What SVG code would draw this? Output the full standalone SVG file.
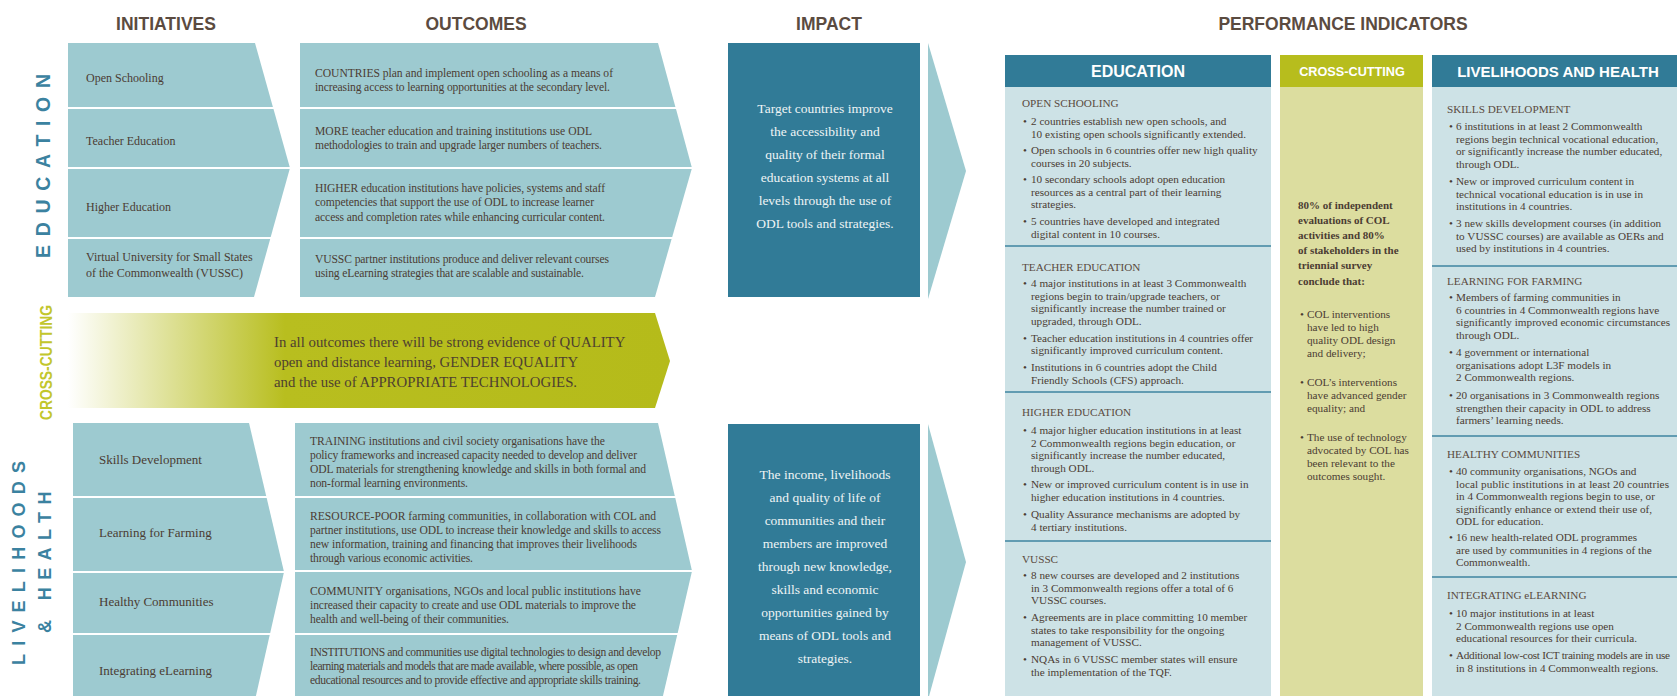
<svg xmlns="http://www.w3.org/2000/svg" width="1677" height="696" viewBox="0 0 1677 696">
<defs>
<style>
.hdr{font-family:"Liberation Sans",Arial,sans-serif;font-weight:bold;font-size:17.5px;fill:#5b4b40;text-anchor:middle}
.ini{font-family:"Liberation Serif","Times New Roman",serif;font-size:12px;fill:#4b3c33}
.ini13{font-family:"Liberation Serif","Times New Roman",serif;font-size:13px;fill:#4b3c33}
.out{font-family:"Liberation Serif","Times New Roman",serif;font-size:11.6px;fill:#4b3c33}
.band{font-family:"Liberation Serif","Times New Roman",serif;font-size:14.8px;fill:#4e4030}
.imp{font-family:"Liberation Serif","Times New Roman",serif;font-size:13.5px;fill:#eef4f5;text-anchor:middle}
.pi{font-family:"Liberation Serif","Times New Roman",serif;font-size:11.2px;fill:#4b3c33}
.pit{font-family:"Liberation Serif","Times New Roman",serif;font-size:11.2px;fill:#5a4a40}
.pib{font-family:"Liberation Serif","Times New Roman",serif;font-size:11px;font-weight:bold;fill:#4b3c33}
.pih{font-family:"Liberation Sans",Arial,sans-serif;font-weight:bold;fill:#ffffff;text-anchor:middle}
.vlab{font-family:"Liberation Sans",Arial,sans-serif;font-weight:bold}
.light{fill:#9dcad0}
.dark{fill:#317b97}
.pibody{fill:#cde2e6}
.sep{stroke:#3e84a0;stroke-width:1.5}
</style>
<linearGradient id="bandGrad" gradientUnits="userSpaceOnUse" x1="68" y1="0" x2="670" y2="0">
<stop offset="0" stop-color="#ffffff"/>
<stop offset="0.36" stop-color="#b8be1f"/>
<stop offset="1" stop-color="#b5bb1a"/>
</linearGradient>
</defs>
<rect width="1677" height="696" fill="#ffffff"/>

<g id="headers">
<text class="hdr" x="166" y="30">INITIATIVES</text>
<text class="hdr" x="476" y="30">OUTCOMES</text>
<text class="hdr" x="829" y="30">IMPACT</text>
<text class="hdr" x="1343" y="30">PERFORMANCE INDICATORS</text>
</g>

<g id="side-labels">
<text class="vlab" transform="translate(50,258) rotate(-90)" font-size="19.5" letter-spacing="8.7" fill="#3b82a0">EDUCATION</text>
<text class="vlab" transform="translate(52,420) rotate(-90)" font-size="16" fill="#c2c62c" textLength="115" lengthAdjust="spacingAndGlyphs">CROSS-CUTTING</text>
<text class="vlab" transform="translate(25,665) rotate(-90)" font-size="18" letter-spacing="8.2" fill="#3b82a0">LIVELIHOODS</text>
<text class="vlab" transform="translate(51,633) rotate(-90)" font-size="18" letter-spacing="7.4" fill="#3b82a0">&amp; HEALTH</text>
</g>

<g id="ini-open-schooling">
<polygon class="light" points="68,43 255,43 272.9,107 68,107"/>
<text class="ini" x="86" y="82">Open Schooling</text>
</g>
<g id="ini-teacher-education">
<polygon class="light" points="68,109 273.5,109 289.7,167 68,167"/>
<text class="ini" x="86" y="145">Teacher Education</text>
</g>
<g id="ini-higher-education">
<polygon class="light" points="68,169 289.7,169 270.7,237 68,237"/>
<text class="ini" x="86" y="211">Higher Education</text>
</g>
<g id="ini-vussc">
<polygon class="light" points="68,239 270.2,239 254,297 68,297"/>
<text class="ini"><tspan x="86" y="261">Virtual University for Small States</tspan><tspan x="86" y="277">of the Commonwealth (VUSSC)</tspan></text>
</g>

<g id="out-open-schooling">
<polygon class="light" points="300,43 658,43 675.4,107 300,107"/>
<text class="out" x="315" y="77" textLength="298" lengthAdjust="spacing">COUNTRIES plan and implement open schooling as a means of</text>
<text class="out" x="315" y="91" textLength="295" lengthAdjust="spacing">increasing access to learning opportunities at the secondary level.</text>
</g>
<g id="out-teacher-education">
<polygon class="light" points="300,109 676,109 691.7,167 300,167"/>
<text class="out" x="315" y="135" textLength="277" lengthAdjust="spacing">MORE teacher education and training institutions use ODL</text>
<text class="out" x="315" y="149" textLength="287" lengthAdjust="spacing">methodologies to train and upgrade larger numbers of teachers.</text>
</g>
<g id="out-higher-education">
<polygon class="light" points="300,169 691.7,169 672.2,237 300,237"/>
<text class="out" x="315" y="192" textLength="290" lengthAdjust="spacing">HIGHER education institutions have policies, systems and staff</text>
<text class="out" x="315" y="206" textLength="279" lengthAdjust="spacing">competencies that support the use of ODL to increase learner</text>
<text class="out" x="315" y="221" textLength="290" lengthAdjust="spacing">access and completion rates while enhancing curricular content.</text>
</g>
<g id="out-vussc">
<polygon class="light" points="300,239 671.6,239 655,297 300,297"/>
<text class="out" x="315" y="263" textLength="294" lengthAdjust="spacing">VUSSC partner institutions produce and deliver relevant courses</text>
<text class="out" x="315" y="277" textLength="269" lengthAdjust="spacing">using eLearning strategies that are scalable and sustainable.</text>
</g>

<g id="cross-cutting-band">
<polygon fill="url(#bandGrad)" points="68,313 655,313 670,361 655,408 68,408"/>
<text class="band"><tspan x="274" y="347">In all outcomes there will be strong evidence of QUALITY</tspan><tspan x="274" y="367">open and distance learning, GENDER EQUALITY</tspan><tspan x="274" y="387">and the use of APPROPRIATE TECHNOLOGIES.</tspan></text>
</g>

<g id="ini-skills-development">
<polygon class="light" points="73,423 249,423 266.2,496 73,496"/>
<text class="ini13" x="99" y="464">Skills Development</text>
</g>
<g id="ini-learning-for-farming">
<polygon class="light" points="73,498 266.7,498 283.8,571 73,571"/>
<text class="ini13" x="99" y="537">Learning for Farming</text>
</g>
<g id="ini-healthy-communities">
<polygon class="light" points="73,573 283.8,573 270.2,633 73,633"/>
<text class="ini13" x="99" y="606">Healthy Communities</text>
</g>
<g id="ini-integrating-elearning">
<polygon class="light" points="73,635 269.7,635 255,700 73,700"/>
<text class="ini13" x="99" y="675">Integrating eLearning</text>
</g>

<g id="out-skills-development">
<polygon class="light" points="295,423 658,423 674.8,496 295,496"/>
<text class="out" x="310" y="445" textLength="295" lengthAdjust="spacing">TRAINING institutions and civil society organisations have the</text>
<text class="out" x="310" y="459" textLength="327" lengthAdjust="spacing">policy frameworks and increased capacity needed to develop and deliver</text>
<text class="out" x="310" y="473" textLength="336" lengthAdjust="spacing">ODL materials for strengthening knowledge and skills in both formal and</text>
<text class="out" x="310" y="487" textLength="158" lengthAdjust="spacing">non-formal learning environments.</text>
</g>
<g id="out-learning-for-farming">
<polygon class="light" points="295,498 675.3,498 691.8,570 295,570"/>
<text class="out" x="310" y="520" textLength="346" lengthAdjust="spacing">RESOURCE-POOR farming communities, in collaboration with COL and</text>
<text class="out" x="310" y="534" textLength="351" lengthAdjust="spacing">partner institutions, use ODL to increase their knowledge and skills to access</text>
<text class="out" x="310" y="548" textLength="327" lengthAdjust="spacing">new information, training and financing that improves their livelihoods</text>
<text class="out" x="310" y="562" textLength="163" lengthAdjust="spacing">through various economic activities.</text>
</g>
<g id="out-healthy-communities">
<polygon class="light" points="295,572 691.8,572 677.7,633 295,633"/>
<text class="out" x="310" y="595" textLength="331" lengthAdjust="spacing">COMMUNITY organisations, NGOs and local public institutions have</text>
<text class="out" x="310" y="609" textLength="326" lengthAdjust="spacing">increased their capacity to create and use ODL materials to improve the</text>
<text class="out" x="310" y="623" textLength="199" lengthAdjust="spacing">health and well-being of their communities.</text>
</g>
<g id="out-integrating-elearning">
<polygon class="light" points="295,635 677.2,635 662,700 295,700"/>
<text class="out" x="310" y="656" textLength="351" lengthAdjust="spacing">INSTITUTIONS and communities use digital technologies to design and develop</text>
<text class="out" x="310" y="670" textLength="328" lengthAdjust="spacing">learning materials and models that are made available, where possible, as open</text>
<text class="out" x="310" y="684" textLength="331" lengthAdjust="spacing">educational resources and to provide effective and appropriate skills training.</text>
</g>

<g id="impact-education">
<rect class="dark" x="728" y="43" width="192" height="254"/>
<text class="imp"><tspan x="825" y="113">Target countries improve</tspan><tspan x="825" y="136">the accessibility and</tspan><tspan x="825" y="159">quality of their formal</tspan><tspan x="825" y="182">education systems at all</tspan><tspan x="825" y="205">levels through the use of</tspan><tspan x="825" y="228">ODL tools and strategies.</tspan></text>
</g>
<g id="impact-livelihoods">
<rect class="dark" x="728" y="424" width="192" height="280"/>
<text class="imp"><tspan x="825" y="479">The income, livelihoods</tspan><tspan x="825" y="502">and quality of life of</tspan><tspan x="825" y="525">communities and their</tspan><tspan x="825" y="548">members are improved</tspan><tspan x="825" y="571">through new knowledge,</tspan><tspan x="825" y="594">skills and economic</tspan><tspan x="825" y="617">opportunities gained by</tspan><tspan x="825" y="640">means of ODL tools and</tspan><tspan x="825" y="663">strategies.</tspan></text>
</g>

<g id="connectors">
<polygon class="light" points="928,43 966,171 928,299"/>
<polygon class="light" points="928,424 966,562 928,700"/>
</g>

<g id="pi-education">
<rect class="dark" x="1005" y="55" width="266" height="32"/>
<rect class="pibody" x="1005" y="87" width="266" height="613"/>
<text class="pih" x="1138" y="77" font-size="16">EDUCATION</text>
<line class="sep" x1="1005" y1="246" x2="1271" y2="246"/>
<line class="sep" x1="1005" y1="392" x2="1271" y2="392"/>
<line class="sep" x1="1005" y1="541" x2="1271" y2="541"/>
<text class="pit" x="1022" y="107">OPEN SCHOOLING</text>
<text class="pi">
<tspan x="1023" y="125">•</tspan><tspan x="1031" y="125">2 countries establish new open schools, and</tspan><tspan x="1031" y="137.5">10 existing open schools significantly extended.</tspan>
<tspan x="1023" y="154">•</tspan><tspan x="1031" y="154">Open schools in 6 countries offer new high quality</tspan><tspan x="1031" y="166.5">courses in 20 subjects.</tspan>
<tspan x="1023" y="183">•</tspan><tspan x="1031" y="183">10 secondary schools adopt open education</tspan><tspan x="1031" y="195.5">resources as a central part of their learning</tspan><tspan x="1031" y="208">strategies.</tspan>
<tspan x="1023" y="225">•</tspan><tspan x="1031" y="225">5 countries have developed and integrated</tspan><tspan x="1031" y="237.5">digital content in 10 courses.</tspan>
</text>
<text class="pit" x="1022" y="271">TEACHER EDUCATION</text>
<text class="pi">
<tspan x="1023" y="287">•</tspan><tspan x="1031" y="287">4 major institutions in at least 3 Commonwealth</tspan><tspan x="1031" y="299.5">regions begin to train/upgrade teachers, or</tspan><tspan x="1031" y="312">significantly increase the number trained or</tspan><tspan x="1031" y="324.5">upgraded, through ODL.</tspan>
<tspan x="1023" y="341.5">•</tspan><tspan x="1031" y="341.5">Teacher education institutions in 4 countries offer</tspan><tspan x="1031" y="354">significantly improved curriculum content.</tspan>
<tspan x="1023" y="371">•</tspan><tspan x="1031" y="371">Institutions in 6 countries adopt the Child</tspan><tspan x="1031" y="383.5">Friendly Schools (CFS) approach.</tspan>
</text>
<text class="pit" x="1022" y="416">HIGHER EDUCATION</text>
<text class="pi">
<tspan x="1023" y="434">•</tspan><tspan x="1031" y="434">4 major higher education institutions in at least</tspan><tspan x="1031" y="446.5">2 Commonwealth regions begin education, or</tspan><tspan x="1031" y="459">significantly increase the number educated,</tspan><tspan x="1031" y="471.5">through ODL.</tspan>
<tspan x="1023" y="488">•</tspan><tspan x="1031" y="488">New or improved curriculum content is in use in</tspan><tspan x="1031" y="500.5">higher education institutions in 4 countries.</tspan>
<tspan x="1023" y="518">•</tspan><tspan x="1031" y="518">Quality Assurance mechanisms are adopted by</tspan><tspan x="1031" y="530.5">4 tertiary institutions.</tspan>
</text>
<text class="pit" x="1022" y="563">VUSSC</text>
<text class="pi">
<tspan x="1023" y="579">•</tspan><tspan x="1031" y="579">8 new courses are developed and 2 institutions</tspan><tspan x="1031" y="591.5">in 3 Commonwealth regions offer a total of 6</tspan><tspan x="1031" y="604">VUSSC courses.</tspan>
<tspan x="1023" y="621">•</tspan><tspan x="1031" y="621">Agreements are in place committing 10 member</tspan><tspan x="1031" y="633.5">states to take responsibility for the ongoing</tspan><tspan x="1031" y="646">management of VUSSC.</tspan>
<tspan x="1023" y="663">•</tspan><tspan x="1031" y="663">NQAs in 6 VUSSC member states will ensure</tspan><tspan x="1031" y="675.5">the implementation of the TQF.</tspan>
</text>
</g>

<g id="pi-cross-cutting">
<rect fill="#b7bd1d" x="1280" y="55" width="143" height="32"/>
<rect fill="#dcdd9f" x="1280" y="87" width="143" height="613"/>
<text class="pih" x="1352" y="75.5" font-size="12.7">CROSS-CUTTING</text>
<text class="pib"><tspan x="1298" y="209">80% of independent</tspan><tspan x="1298" y="224">evaluations of COL</tspan><tspan x="1298" y="239">activities and 80%</tspan><tspan x="1298" y="254">of stakeholders in the</tspan><tspan x="1298" y="269">triennial survey</tspan><tspan x="1298" y="285">conclude that:</tspan></text>
<text class="pi">
<tspan x="1300" y="318">•</tspan><tspan x="1307" y="318">COL interventions</tspan><tspan x="1307" y="331">have led to high</tspan><tspan x="1307" y="344">quality ODL design</tspan><tspan x="1307" y="357">and delivery;</tspan>
<tspan x="1300" y="386">•</tspan><tspan x="1307" y="386">COL’s interventions</tspan><tspan x="1307" y="399">have advanced gender</tspan><tspan x="1307" y="412">equality; and</tspan>
<tspan x="1300" y="441">•</tspan><tspan x="1307" y="441">The use of technology</tspan><tspan x="1307" y="454">advocated by COL has</tspan><tspan x="1307" y="467">been relevant to the</tspan><tspan x="1307" y="480">outcomes sought.</tspan>
</text>
</g>

<g id="pi-livelihoods-health">
<rect class="dark" x="1432" y="55" width="245" height="32"/>
<rect class="pibody" x="1432" y="87" width="245" height="613"/>
<text class="pih" x="1558" y="76.5" font-size="15">LIVELIHOODS AND HEALTH</text>
<line class="sep" x1="1432" y1="266" x2="1677" y2="266"/>
<line class="sep" x1="1432" y1="436" x2="1677" y2="436"/>
<line class="sep" x1="1432" y1="577" x2="1677" y2="577"/>
<text class="pit" x="1447" y="113">SKILLS DEVELOPMENT</text>
<text class="pi">
<tspan x="1449" y="130">•</tspan><tspan x="1456" y="130">6 institutions in at least 2 Commonwealth</tspan><tspan x="1456" y="142.5">regions begin technical vocational education,</tspan><tspan x="1456" y="155">or significantly increase the number educated,</tspan><tspan x="1456" y="167.5">through ODL.</tspan>
<tspan x="1449" y="185">•</tspan><tspan x="1456" y="185">New or improved curriculum content in</tspan><tspan x="1456" y="197.5">technical vocational education is in use in</tspan><tspan x="1456" y="210">institutions in 4 countries.</tspan>
<tspan x="1449" y="227">•</tspan><tspan x="1456" y="227">3 new skills development courses (in addition</tspan><tspan x="1456" y="239.5">to VUSSC courses) are available as OERs and</tspan><tspan x="1456" y="252">used by institutions in 4 countries.</tspan>
</text>
<text class="pit" x="1447" y="285">LEARNING FOR FARMING</text>
<text class="pi">
<tspan x="1449" y="301">•</tspan><tspan x="1456" y="301">Members of farming communities in</tspan><tspan x="1456" y="313.5">6 countries in 4 Commonwealth regions have</tspan><tspan x="1456" y="326">significantly improved economic circumstances</tspan><tspan x="1456" y="338.5">through ODL.</tspan>
<tspan x="1449" y="356">•</tspan><tspan x="1456" y="356">4 government or international</tspan><tspan x="1456" y="368.5">organisations adopt L3F models in</tspan><tspan x="1456" y="381">2 Commonwealth regions.</tspan>
<tspan x="1449" y="399">•</tspan><tspan x="1456" y="399">20 organisations in 3 Commonwealth regions</tspan><tspan x="1456" y="411.5">strengthen their capacity in ODL to address</tspan><tspan x="1456" y="424">farmers’ learning needs.</tspan>
</text>
<text class="pit" x="1447" y="458">HEALTHY COMMUNITIES</text>
<text class="pi">
<tspan x="1449" y="475">•</tspan><tspan x="1456" y="475">40 community organisations, NGOs and</tspan>
<tspan x="1456" y="487.5" textLength="213" lengthAdjust="spacing">local public institutions in at least 20 countries</tspan>
<tspan x="1456" y="500">in 4 Commonwealth regions begin to use, or</tspan><tspan x="1456" y="512.5">significantly enhance or extend their use of,</tspan><tspan x="1456" y="525">ODL for education.</tspan>
<tspan x="1449" y="541">•</tspan><tspan x="1456" y="541">16 new health-related ODL programmes</tspan><tspan x="1456" y="553.5">are used by communities in 4 regions of the</tspan><tspan x="1456" y="566">Commonwealth.</tspan>
</text>
<text class="pit" x="1447" y="599">INTEGRATING eLEARNING</text>
<text class="pi">
<tspan x="1449" y="617">•</tspan><tspan x="1456" y="617">10 major institutions in at least</tspan><tspan x="1456" y="629.5">2 Commonwealth regions use open</tspan><tspan x="1456" y="642">educational resources for their curricula.</tspan>
</text>
<text class="pi"><tspan x="1449" y="659">•</tspan></text>
<text class="pi" x="1456" y="659" textLength="214" lengthAdjust="spacing">Additional low-cost ICT training models are in use</text>
<text class="pi" x="1456" y="671.5">in 8 institutions in 4 Commonwealth regions.</text>
</g>
</svg>
